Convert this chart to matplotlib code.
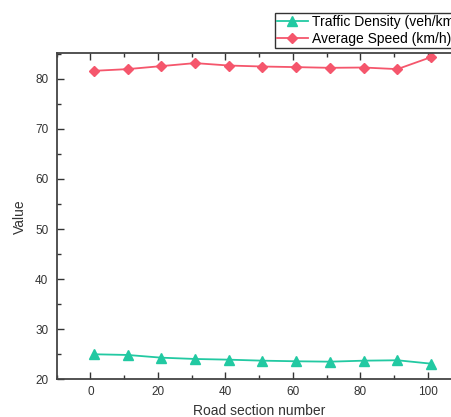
import matplotlib
matplotlib.use("Agg")
import matplotlib.pyplot as plt
from matplotlib.ticker import MultipleLocator

plt.rcParams['font.family'] = ['Liberation Sans', 'DejaVu Sans']

sections = [1, 11, 21, 31, 41, 51, 61, 71, 81, 91, 101]
density = [25.0, 24.86, 24.32, 24.06, 23.92, 23.72, 23.6, 23.52, 23.72, 23.8, 23.12]
speed = [81.6, 81.94, 82.54, 83.14, 82.66, 82.46, 82.34, 82.2, 82.26, 81.94, 84.34]
label_density = "Traffic Density (veh/km)"
label_speed = "Average Speed (km/h)"
xticks = [0, 20, 40, 60, 80, 100]
yticks = [20, 30, 40, 50, 60, 70, 80]

teal = "#22c9a2"
pink = "#f5566c"

fig = plt.figure(figsize=(4.52, 4.17), dpi=100)
ax = fig.add_axes([56.7 / 452, 1 - 379.3 / 417, (461.5 - 56.7) / 452, (379.3 - 53.3) / 417])

l1, = ax.plot(sections, density, color=teal, marker='^', markersize=6.5, lw=1.3, label=label_density)
l2, = ax.plot(sections, speed, color=pink, marker='D', markersize=5.5, lw=1.3, label=label_speed)

ax.set_xlim(-10, 110)
ax.set_ylim(20, 85.1)
ax.set_xticks(xticks)
ax.set_yticks(yticks)
ax.xaxis.set_minor_locator(MultipleLocator(10))
ax.yaxis.set_minor_locator(MultipleLocator(5))
ax.tick_params(axis='both', which='major', direction='in', length=5, width=1, labelsize=8.5,
               colors='#333333', top=True, right=False)
ax.tick_params(axis='y', which='major', pad=6)
ax.tick_params(axis='x', which='major', pad=5)
ax.tick_params(axis='both', which='minor', direction='in', length=3, width=1, top=True, right=False,
               colors='#333333')
for s in ['left', 'bottom', 'top']:
    ax.spines[s].set_linewidth(1.3)
    ax.spines[s].set_color('#444444')
ax.spines['right'].set_visible(False)

ax.set_xlabel("Road section number", fontsize=10, color='#333333', labelpad=4)
ax.set_ylabel("Value", fontsize=10, color='#333333', labelpad=6)

leg = fig.legend(handles=[l1, l2], loc='upper left', bbox_to_anchor=(275 / 452, 1 - 13 / 417),
                 fontsize=10, frameon=True, fancybox=False, shadow=False, borderpad=0.15,
                 labelspacing=0.2, handlelength=2.2, handletextpad=0.3, borderaxespad=0)
leg.get_frame().set_edgecolor('black')
leg.get_frame().set_linewidth(1.0)

fig.savefig("out.png", dpi=100)
